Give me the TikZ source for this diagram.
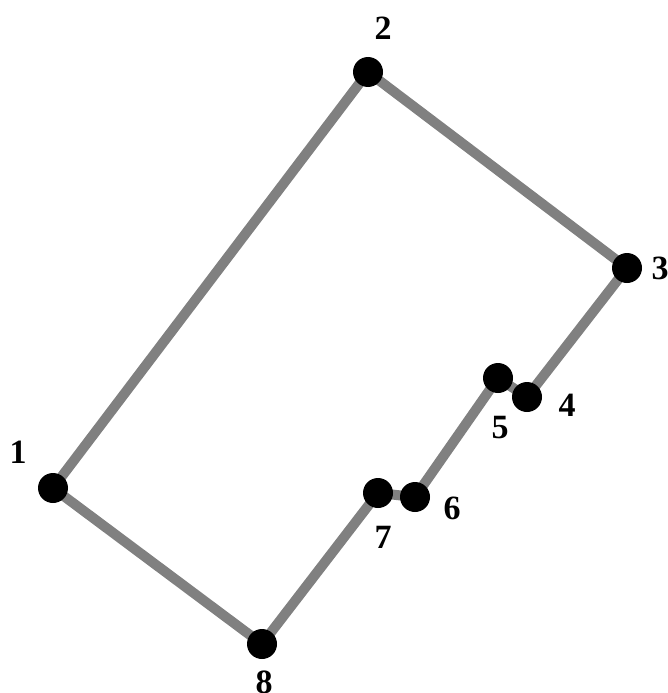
\documentclass[tikz,border=0pt]{standalone}
\usepackage{fontspec}
\setmainfont{Liberation Serif}
\begin{document}
\begin{tikzpicture}[x=1pt,y=-1pt,
  vtx/.style={circle,fill=black,inner sep=0pt,minimum size=30pt},
  edge/.style={draw=black!50,line width=10pt},
  lbl/.style={font=\fontsize{34}{38}\selectfont\bfseries,inner sep=0pt}]
\useasboundingbox (0,0) rectangle (667,693);
\coordinate (p1) at (53,488);
\coordinate (p2) at (368,72);
\coordinate (p3) at (627,268);
\coordinate (p4) at (527,397);
\coordinate (p5) at (498,378);
\coordinate (p6) at (415,497);
\coordinate (p7) at (378,493);
\coordinate (p8) at (262,644);
\draw[edge] (p1) -- (p2) -- (p3) -- (p4) -- (p5) -- (p6) -- (p7) -- (p8) -- cycle;
\foreach \i in {1,...,8} { \node[vtx] (v\i) at (p\i) {}; }
\node[lbl] (l1) at (18,452) {1};
\node[lbl] (l2) at (383,28) {2};
\node[lbl] (l3) at (660,268) {3};
\node[lbl] (l4) at (567,405) {4};
\node[lbl] (l5) at (500,428) {5};
\node[lbl] (l6) at (452,508) {6};
\node[lbl] (l7) at (383,537) {7};
\node[lbl] (l8) at (264,682) {8};
\end{tikzpicture}
\end{document}
